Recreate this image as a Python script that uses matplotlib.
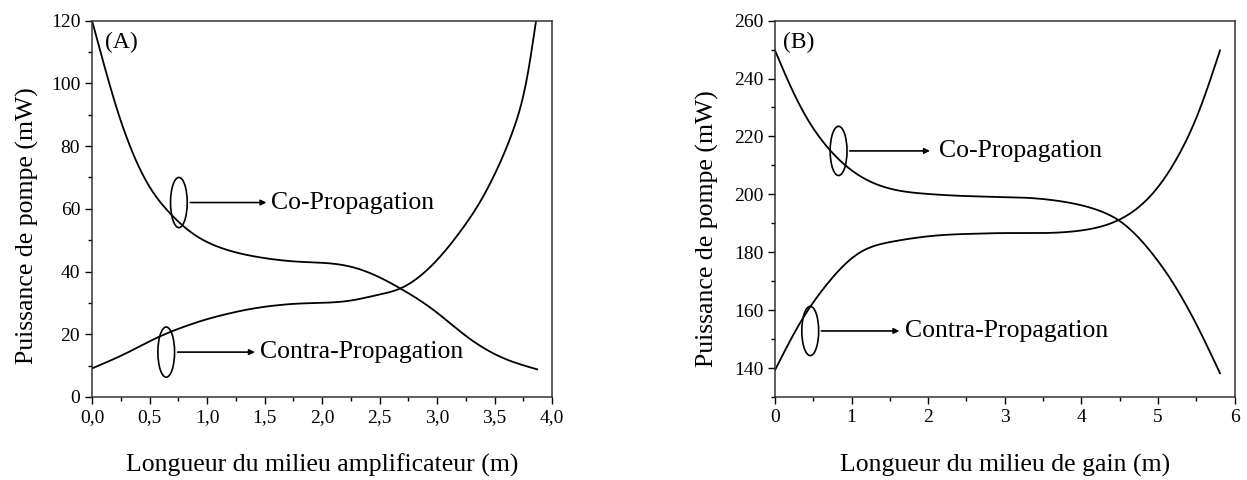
import numpy as np
import matplotlib.pyplot as plt
from matplotlib.patches import Ellipse
from matplotlib.ticker import MultipleLocator, FormatStrFormatter, FuncFormatter

plt.rcParams['font.family'] = ['Liberation Serif', 'DejaVu Serif']

# panel A : amplifier length (m) / pump power (mW)
x_co_a = [0.0, 0.1, 0.215, 0.33, 0.476, 0.68, 0.85, 1.14, 1.43, 1.81, 2.19, 2.39, 2.68, 2.97, 3.26, 3.55, 3.87]
co_a = [120, 106.5, 92, 80, 68.5, 58.5, 52.8, 47.3, 44.7, 43.1, 42, 39.9, 34.6, 27.7, 19.2, 12.8, 8.8]
x_contra_a = [0.0, 0.3, 0.56, 0.8, 1.0, 1.2, 1.37, 1.6, 1.81, 2.24, 2.48, 2.68, 2.91, 3.11, 3.21, 3.37, 3.5, 3.66, 3.78, 3.86]
contra_a = [9.1, 14, 18.8, 22.4, 24.8, 26.7, 28, 29.2, 29.8, 30.7, 32.5, 34.6, 40.4, 48.4, 53.2, 62, 71, 85, 101.5, 120]

# panel B : gain medium length (m) / pump power (mW)
x_co_b = [0.0, 0.217, 0.435, 0.72, 1.0, 1.43, 1.96, 2.61, 2.93, 3.4, 3.8, 4.24, 4.5, 4.89, 5.28, 5.54, 5.81]
co_b = [249.7, 236.5, 225.5, 215.2, 208.3, 202.5, 200.2, 199.3, 199.1, 198.6, 197.3, 194.3, 190.8, 180.7, 165.8, 153.1, 138.2]
x_contra_b = [0.0, 0.35, 0.65, 1.09, 1.52, 2.17, 2.61, 2.93, 4.02, 4.5, 4.89, 5.28, 5.54, 5.81]
contra_b = [139.3, 156.6, 168, 179.6, 183.6, 185.9, 186.4, 186.6, 187.6, 191.3, 199.1, 214, 229, 249.7]


def smooth(x, y, n=400):
    # natural cubic spline through the read points
    x = np.asarray(x, float)
    y = np.asarray(y, float)
    k = len(x)
    h = np.diff(x)
    A = np.zeros((k, k))
    b = np.zeros(k)
    A[0, 0] = A[-1, -1] = 1
    for i in range(1, k - 1):
        A[i, i - 1] = h[i - 1]
        A[i, i] = 2 * (h[i - 1] + h[i])
        A[i, i + 1] = h[i]
        b[i] = 6 * ((y[i + 1] - y[i]) / h[i] - (y[i] - y[i - 1]) / h[i - 1])
    M = np.linalg.solve(A, b)
    xs = np.linspace(x[0], x[-1], n)
    j = np.clip(np.searchsorted(x, xs, side='right') - 1, 0, k - 2)
    hj = h[j]
    a = x[j + 1] - xs
    c = xs - x[j]
    ys = (M[j] * a**3 + M[j + 1] * c**3) / (6 * hj) \
        + (y[j] / hj - M[j] * hj / 6) * a + (y[j + 1] / hj - M[j + 1] * hj / 6) * c
    return xs, ys


fig = plt.figure(figsize=(12.47, 4.8), dpi=100)
ax1 = fig.add_axes([0.0738, 0.173, 0.3690, 0.784])
ax2 = fig.add_axes([0.6215, 0.173, 0.3685, 0.784])

comma = FuncFormatter(lambda v, p: ('%.1f' % v).replace('.', ','))

for ax in (ax1, ax2):
    ax.tick_params(which='both', direction='out', top=False, right=False, labelsize=14, width=1)
    ax.tick_params(which='major', length=5)
    ax.tick_params(which='minor', length=3)
    for s in ax.spines.values():
        s.set_linewidth(1.1)
        s.set_color('#333333')

x, y = smooth(x_co_a, co_a); ax1.plot(x, y, color='black', lw=1.3)
x, y = smooth(x_contra_a, contra_a); ax1.plot(x, y, color='black', lw=1.3)
ax1.set_xlim(0, 4)
ax1.set_ylim(0, 120)
ax1.xaxis.set_major_locator(MultipleLocator(0.5))
ax1.xaxis.set_minor_locator(MultipleLocator(0.25))
ax1.xaxis.set_major_formatter(comma)
ax1.yaxis.set_major_locator(MultipleLocator(20))
ax1.yaxis.set_minor_locator(MultipleLocator(10))
ax1.set_xlabel('Longueur du milieu amplificateur (m)', fontsize=18.5, labelpad=20)
ax1.set_ylabel('Puissance de pompe (mW)', fontsize=18.5)
ax1.yaxis.set_label_coords(-0.115, 0.454)
ax1.text(0.11, 113, '(A)', fontsize=17, va='center')

ax1.add_patch(Ellipse((0.755, 62), 0.145, 16, fill=False, lw=1.2))
ax1.annotate('', xy=(1.54, 62), xytext=(0.83, 62),
             arrowprops=dict(arrowstyle='-|>', color='black', lw=1.2, mutation_scale=8))
ax1.text(1.56, 62, 'Co-Propagation', fontsize=18.5, va='center')
ax1.add_patch(Ellipse((0.645, 14.3), 0.145, 16, fill=False, lw=1.2))
ax1.annotate('', xy=(1.44, 14.3), xytext=(0.72, 14.3),
             arrowprops=dict(arrowstyle='-|>', color='black', lw=1.2, mutation_scale=8))
ax1.text(1.46, 14.3, 'Contra-Propagation', fontsize=18.5, va='center')

x, y = smooth(x_co_b, co_b); ax2.plot(x, y, color='black', lw=1.3)
x, y = smooth(x_contra_b, contra_b); ax2.plot(x, y, color='black', lw=1.3)
ax2.set_xlim(0, 6)
ax2.set_ylim(130, 260)
ax2.xaxis.set_major_locator(MultipleLocator(1))
ax2.xaxis.set_minor_locator(MultipleLocator(0.5))
ax2.yaxis.set_major_locator(MultipleLocator(20))
ax2.yaxis.set_minor_locator(MultipleLocator(10))
ax2.yaxis.set_major_formatter(FormatStrFormatter('%d'))
ax2.set_xlabel('Longueur du milieu de gain (m)', fontsize=18.5, labelpad=20)
ax2.set_ylabel('Puissance de pompe (mW)', fontsize=18.5)
ax2.yaxis.set_label_coords(-0.122, 0.446)
ax2.text(0.1, 252.5, '(B)', fontsize=17, va='center')

ax2.add_patch(Ellipse((0.83, 215), 0.22, 17, fill=False, lw=1.2))
ax2.annotate('', xy=(2.06, 215), xytext=(0.94, 215),
             arrowprops=dict(arrowstyle='-|>', color='black', lw=1.2, mutation_scale=8))
ax2.text(2.14, 215, 'Co-Propagation', fontsize=18.5, va='center')
ax2.add_patch(Ellipse((0.46, 152.8), 0.22, 17, fill=False, lw=1.2))
ax2.annotate('', xy=(1.66, 152.8), xytext=(0.57, 152.8),
             arrowprops=dict(arrowstyle='-|>', color='black', lw=1.2, mutation_scale=8))
ax2.text(1.7, 152.8, 'Contra-Propagation', fontsize=18.5, va='center')

plt.savefig('out.png', dpi=100)
